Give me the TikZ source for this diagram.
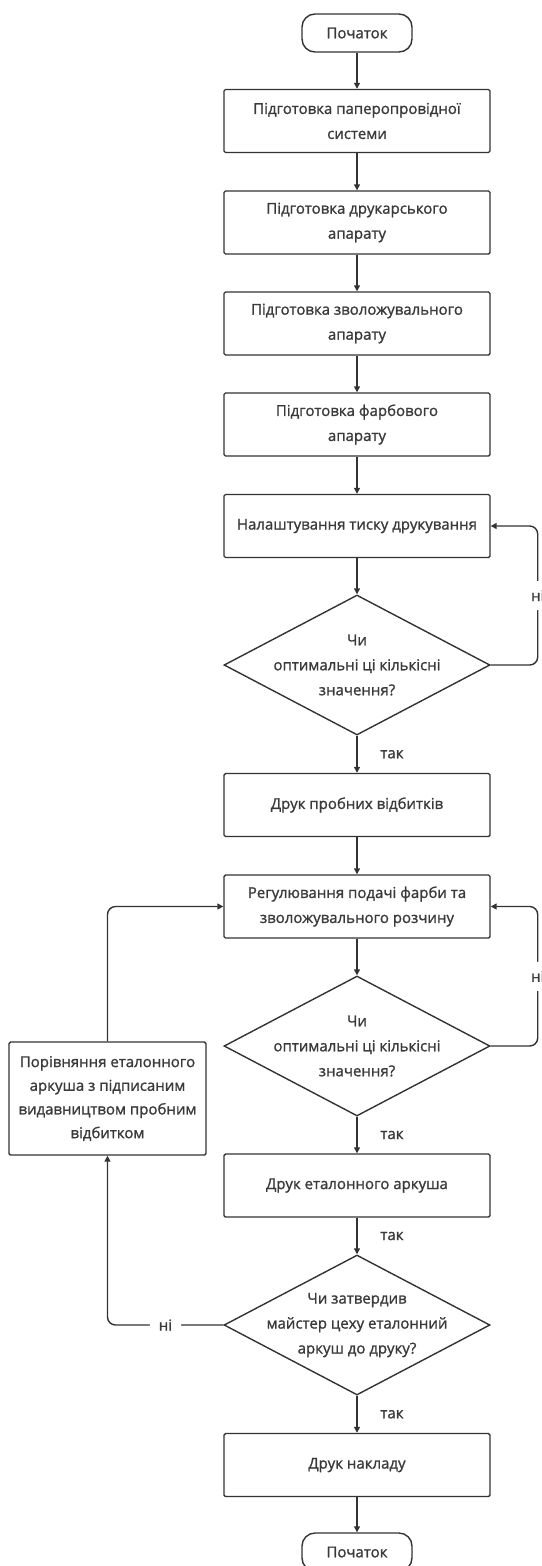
\documentclass[tikz,border=0pt]{standalone}
\usepackage{fontspec}
\setmainfont{Open Sans}[FakeBold=1.2]
\usetikzlibrary{shapes.geometric,arrows.meta}
\definecolor{ln}{HTML}{333333}
\definecolor{tx}{HTML}{3A3A3A}
\newcommand{\fs}{\fontsize{15}{25}\selectfont}
\tikzset{
  box/.style={draw=ln, line width=1.4pt, rounded corners=1.5pt, minimum width=266pt, minimum height=63pt, align=center, text=tx, font=\fs, inner sep=0pt},
  term/.style={draw=ln, line width=1.4pt, rounded corners=13pt, minimum width=110pt, minimum height=38pt, text=tx, font=\fs, inner sep=0pt},
  dec/.style={draw=ln, line width=1.4pt, diamond, minimum width=266pt, minimum height=140pt, inner sep=0pt},
  dtext/.style={align=center, text=tx, font=\fs, inner sep=0pt},
  conn/.style={draw=ln, line width=1.4pt, -{Triangle[length=6pt,width=6pt]}},
  lbl/.style={text=tx, font=\fs, fill=white, inner xsep=9pt, inner ysep=9pt},
  yes/.style={text=tx, font=\fs, inner sep=0pt},
}
\begin{document}
\begin{tikzpicture}[x=1pt,y=-1pt]
\useasboundingbox[fill=white] (0,0) rectangle (541,1566);
\node[term] (start) at (357,33) {Початок};
\node[box] (b1) at (357,121) {Підготовка паперопровідної\\системи};
\node[box] (b2) at (357,222.5) {Підготовка друкарського\\апарату};
\node[box] (b3) at (357,323.5) {Підготовка зволожувального\\апарату};
\node[box] (b4) at (357,424.5) {Підготовка фарбового\\апарату};
\node[box] (b5) at (357,526) {Налаштування тиску друкування};
\node[dec] (d1) at (357,665) {};
\node[dtext] (d1t) at (d1.center) {Чи\\оптимальні ці кількісні\\значення?};
\node[box] (b6) at (357,805) {Друк пробних відбитків};
\node[box] (b7) at (357,906.5) {Регулювання подачі фарби та\\зволожувального розчину};
\node[dec] (d2) at (357,1046) {};
\node[dtext] (d2t) at (d2.center) {Чи\\оптимальні ці кількісні\\значення?};
\node[box] (b8) at (357,1185.5) {Друк еталонного аркуша};
\node[dec] (d3) at (357,1325) {};
\node[dtext] (d3t) at (d3.center) {Чи затвердив\\майстер цеху еталонний\\аркуш до друку?};
\node[box] (b9) at (357,1465) {Друк накладу};
\node[term] (end) at (357,1552) {Початок};
\node[box, minimum width=197pt, minimum height=113pt, font=\fontsize{15}{23.7}\selectfont] (lb) at (107.5,1098.5) {Порівняння еталонного\\аркуша з підписаним\\видавництвом пробним\\відбитком};

\draw[conn] (start) -- (b1);
\draw[conn] (b1) -- (b2);
\draw[conn] (b2) -- (b3);
\draw[conn] (b3) -- (b4);
\draw[conn] (b4) -- (b5);
\draw[conn] (b5) -- (d1);
\draw[conn] (d1) -- node[yes, xshift=35pt]{так} (b6);
\draw[conn] (b6) -- (b7);
\draw[conn] (b7) -- (d2);
\draw[conn] (d2) -- node[yes, xshift=35pt]{так} (b8);
\draw[conn] (b8) -- node[yes, xshift=35pt]{так} (d3);
\draw[conn] (d3) -- node[yes, xshift=35pt]{так} (b9);
\draw[conn] (b9) -- (end);
\draw[conn, rounded corners=8pt] (d1.east) -- ++(47,0) |- node[lbl, pos=0.25]{ні} (b5.east);
\draw[conn, rounded corners=8pt] (d2.east) -- ++(47,0) |- node[lbl, pos=0.25]{ні} (b7.east);
\draw[conn, rounded corners=8pt] (lb.north) |- (b7.west);
\draw[conn, rounded corners=8pt] (d3.west) -| node[lbl, pos=0.25]{ні} (lb.south);
\end{tikzpicture}
\end{document}
